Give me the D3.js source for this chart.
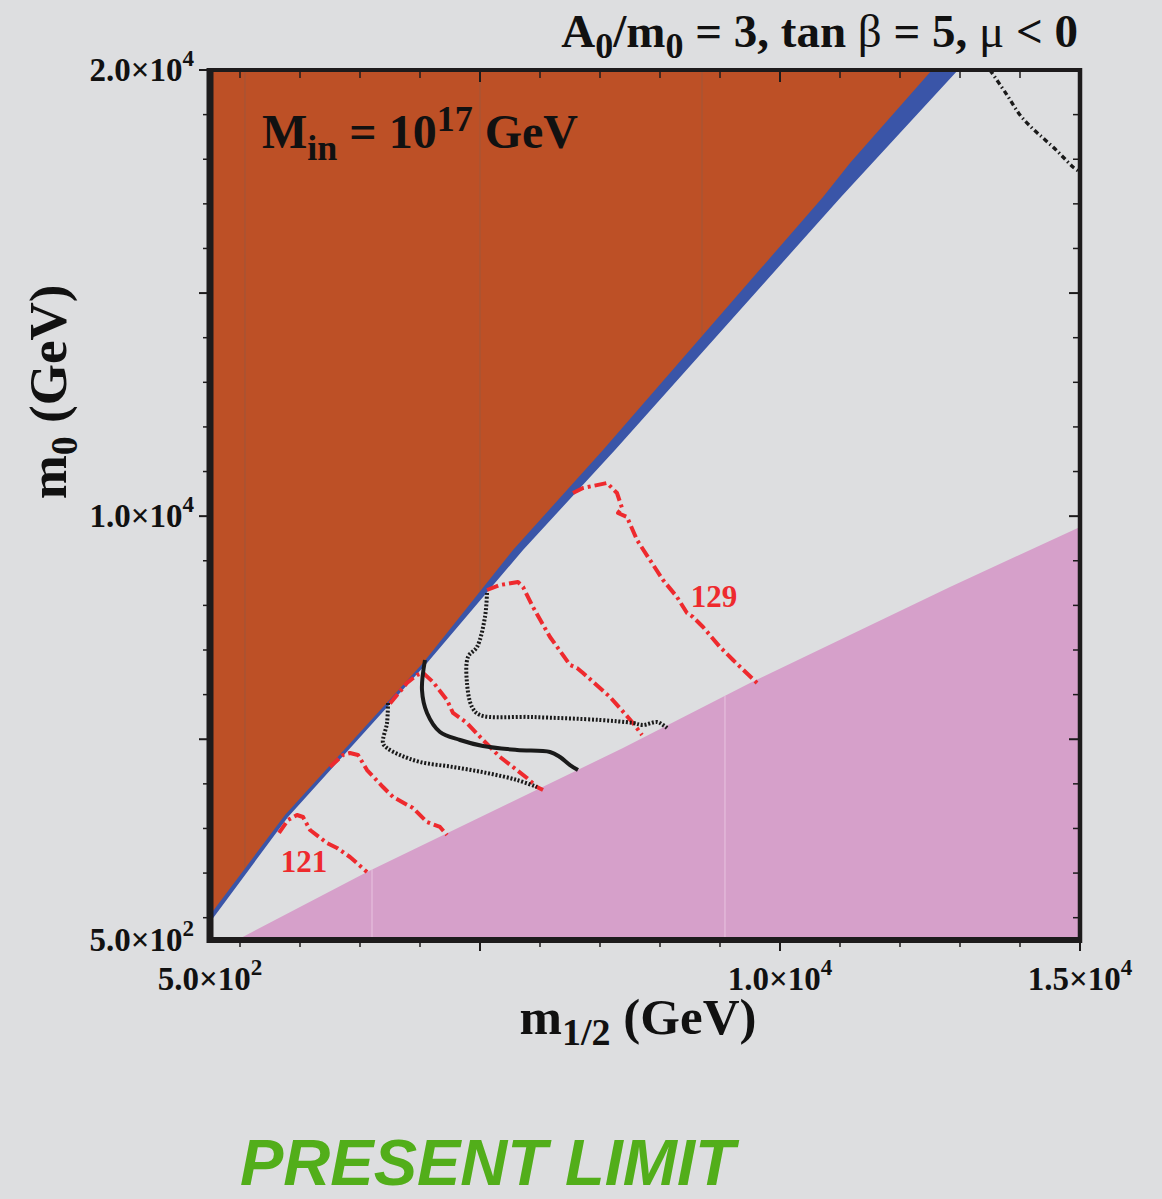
<!DOCTYPE html>
<html>
<head>
<meta charset="utf-8">
<script src="https://cdnjs.cloudflare.com/ajax/libs/d3/7.8.5/d3.min.js"></script>
<style>
body { margin: 0; background: #dddee0; }
svg { display: block; }
.bold { font-family: "Liberation Serif", "Times New Roman", serif; font-weight: bold; fill: #111; }
</style>
</head>
<body>
<svg id="chart" width="1162" height="1199"></svg>
<script>
// plot ranges (GeV)
var xDomain = [500, 15000];
var yDomain = [500, 20000];

// ticks
var xMinorTicks = [1000, 2000, 3000, 4000, 6000, 7000, 8000, 9000, 11000, 12000, 13000, 14000];
var xMajorTicks = [5000, 10000, 15000];
var yMinorTicks = [1000, 2000, 3000, 4000, 6000, 7000, 8000, 9000, 11000, 12000, 13000, 14000, 16000, 17000, 18000, 19000];
var yMajorTicks = [5000, 10000, 15000, 20000];
var xLabelValues = [500, 10000, 15000];
var xLabelMant = ["5.0", "1.0", "1.5"];
var xLabelExp = ["2", "4", "4"];
var yLabelValues = [500, 10000, 20000];
var yLabelMant = ["5.0", "1.0", "2.0"];
var yLabelExp = ["2", "4", "4"];

// excluded regions: boundaries [m1/2, m0]
var orangeEdge = [[500, 1060], [1750, 3302], [4050, 6709], [5550, 9241], [7050, 11483], [10717, 17154], [11167, 17916], [12533, 20000]];
var blueEdge = [[500, 900], [1800, 3257], [4117, 6709], [5717, 9241], [7250, 11483], [11017, 17154], [12967, 20000]];
var pinkEdge = [[950, 500], [3117, 2024], [7383, 4803], [9500, 6260], [12833, 8412], [15000, 9757]];

// Higgs mass contours (red dash-dot)
var mh121 = [[1650, 2900], [1800, 3190], [1950, 3302], [2050, 3257], [2167, 2966], [2450, 2674], [2617, 2562], [2833, 2360], [3117, 2024]];
var mh123 = [[2500, 4380], [2717, 4647], [2833, 4691], [2967, 4647], [3117, 4310], [3383, 3929], [3550, 3705], [3883, 3459], [4117, 3145], [4333, 3033], [4450, 2853]];
var mh125 = [[3500, 5800], [3783, 6260], [3950, 6440], [4050, 6485], [4217, 6283], [4450, 5879], [4550, 5588], [4783, 5364], [5050, 4983], [5333, 4602], [5550, 4378], [5783, 4131], [5950, 3929], [6050, 3862]];
var mh127 = [[5117, 8345], [5333, 8457], [5633, 8524], [5717, 8412], [5883, 7964], [6167, 7291], [6500, 6664], [6617, 6597], [6717, 6485], [7167, 5947], [7550, 5364], [7700, 5095]];
var mh129 = [[6550, 10519], [6717, 10631], [7117, 10743], [7283, 10519], [7367, 10183], [7300, 10071], [7450, 9981], [7617, 9466], [7833, 9017], [8050, 8569], [8283, 8188], [8450, 7829], [8550, 7740], [8717, 7516], [9000, 7067], [9217, 6776], [9617, 6260]];
var contourLabels = ["121", "129"];
var contourLabelPos = [[2067, 2024], [8900, 7964]];

// black lines
var solidLine = [[4083, 6776], [4033, 6104], [4117, 5588], [4333, 5162], [4667, 4983], [5050, 4848], [5617, 4759], [6167, 4714], [6333, 4602], [6500, 4422], [6633, 4310]];
var dottedLow = [[3467, 5812], [3450, 5364], [3383, 4916], [3450, 4803], [3667, 4647], [4000, 4490], [4550, 4378], [5117, 4243], [5617, 4086], [5950, 3929]];
var dottedHigh = [[5117, 8278], [5083, 7740], [4950, 7067], [4800, 6843], [4783, 6260], [4867, 5722], [5000, 5543], [5883, 5498], [7000, 5431], [7550, 5364], [7717, 5319], [7950, 5386], [8050, 5319], [8117, 5252]];
var dashDotTop = [[13500, 20000], [13783, 19440], [14000, 18992], [14200, 18700], [14383, 18476], [14550, 18274], [14717, 18050], [14883, 17826], [15000, 17714]];

// seams of the original scan
var orangeSeams = [1083, 5000, 8700];
var pinkSeams = [3200, 9083];

d3.select(window).on('load', init);

function init() {
    var svg = d3.select('#chart');
    var left = 210, right = 1080, top = 70, bottom = 940;

    var x = d3.scaleLinear().domain(xDomain).range([left, right]);
    var y = d3.scaleLinear().domain(yDomain).range([bottom, top]);

    svg.append('rect').attr('width', 1162).attr('height', 1199).attr('fill', '#dddee0');

    svg.append('clipPath').attr('id', 'plotclip')
        .append('rect').attr('x', left).attr('y', top).attr('width', right - left).attr('height', bottom - top);

    var g = svg.append('g').attr('clip-path', 'url(#plotclip)');

    var line = d3.line().x(function(d) { return x(d[0]); }).y(function(d) { return y(d[1]); });
    var curved = d3.line().curve(d3.curveCatmullRom.alpha(0.5))
        .x(function(d) { return x(d[0]); }).y(function(d) { return y(d[1]); });

    // blue band first, orange over it
    g.append('path')
        .attr('d', line([[xDomain[0], yDomain[1]]].concat(blueEdge)) + 'Z')
        .attr('fill', '#3a55a8');
    var orangePoly = [[xDomain[0], yDomain[1]]].concat(orangeEdge);
    g.append('path')
        .attr('d', line(orangePoly) + 'Z')
        .attr('fill', '#bd5026');

    svg.append('clipPath').attr('id', 'orangeclip')
        .append('path').attr('d', line(orangePoly) + 'Z');
    g.append('g').attr('clip-path', 'url(#orangeclip)')
        .selectAll('line').data(orangeSeams).enter().append('line')
        .attr('x1', function(d) { return x(d); }).attr('x2', function(d) { return x(d); })
        .attr('y1', top).attr('y2', bottom)
        .attr('stroke', '#8a5a48').attr('stroke-width', 1).attr('opacity', 0.6);

    var pinkPoly = pinkEdge.concat([[xDomain[1], yDomain[0]]]);
    g.append('path')
        .attr('d', line(pinkPoly) + 'Z')
        .attr('fill', '#d6a0ca');
    svg.append('clipPath').attr('id', 'pinkclip')
        .append('path').attr('d', line(pinkPoly) + 'Z');
    g.append('g').attr('clip-path', 'url(#pinkclip)')
        .selectAll('line').data(pinkSeams).enter().append('line')
        .attr('x1', function(d) { return x(d); }).attr('x2', function(d) { return x(d); })
        .attr('y1', top).attr('y2', bottom)
        .attr('stroke', '#e8c4e0').attr('stroke-width', 1);

    // red Higgs mass contours
    [mh121, mh123, mh125, mh127, mh129].forEach(function(c) {
        g.append('path').attr('d', line(c))
            .attr('fill', 'none').attr('stroke', '#ee2a2e').attr('stroke-width', 4)
            .attr('stroke-dasharray', '12,4,3,4').attr('stroke-linejoin', 'round');
    });

    // black lines
    g.append('path').attr('d', curved(solidLine))
        .attr('fill', 'none').attr('stroke', '#1a1a1a').attr('stroke-width', 4);
    [dottedLow, dottedHigh].forEach(function(c) {
        g.append('path').attr('d', curved(c))
            .attr('fill', 'none').attr('stroke', '#1a1a1a').attr('stroke-width', 4)
            .attr('stroke-dasharray', '2,1.8');
    });
    g.append('path').attr('d', curved(dashDotTop))
        .attr('fill', 'none').attr('stroke', '#1a1a1a').attr('stroke-width', 3.4)
        .attr('stroke-dasharray', '5,3,1.5,3');

    // contour labels
    g.selectAll('.clabel').data(contourLabels).enter().append('text')
        .attr('class', 'bold clabel')
        .attr('x', function(d, i) { return x(contourLabelPos[i][0]); })
        .attr('y', function(d, i) { return y(contourLabelPos[i][1]); })
        .attr('text-anchor', 'middle')
        .style('font-size', '31px').style('fill', '#ee2a2e')
        .text(function(d) { return d; });

    // frame
    var frame = svg.append('g').attr('stroke', '#1d1b1c').attr('fill', 'none');
    frame.append('line').attr('x1', left).attr('x2', right).attr('y1', top).attr('y2', top).attr('stroke-width', 4);
    frame.append('line').attr('x1', right).attr('x2', right).attr('y1', top - 2).attr('y2', bottom + 3).attr('stroke-width', 4.5);
    frame.append('line').attr('x1', left).attr('x2', left).attr('y1', top - 2).attr('y2', bottom + 3).attr('stroke-width', 7);
    frame.append('line').attr('x1', left - 3).attr('x2', right + 2).attr('y1', bottom).attr('y2', bottom).attr('stroke-width', 6);

    // ticks: outward on left and bottom, inward on top and right
    function ticks(vals, len, w) {
        frame.selectAll(null).data(vals).enter().append('line')
            .attr('x1', function(d) { return x(d); }).attr('x2', function(d) { return x(d); })
            .attr('y1', bottom).attr('y2', bottom + len).attr('stroke-width', w);
        frame.selectAll(null).data(vals).enter().append('line')
            .attr('x1', function(d) { return x(d); }).attr('x2', function(d) { return x(d); })
            .attr('y1', top).attr('y2', top + len + 1).attr('stroke-width', w);
    }
    function yticks(vals, len, w) {
        frame.selectAll(null).data(vals).enter().append('line')
            .attr('y1', function(d) { return y(d); }).attr('y2', function(d) { return y(d); })
            .attr('x1', left).attr('x2', left - len).attr('stroke-width', w);
        frame.selectAll(null).data(vals).enter().append('line')
            .attr('y1', function(d) { return y(d); }).attr('y2', function(d) { return y(d); })
            .attr('x1', right).attr('x2', right - len).attr('stroke-width', w);
    }
    ticks(xMinorTicks, 7, 1.5);
    ticks(xMajorTicks, 11, 2);
    yticks(yMinorTicks, 7, 1.5);
    yticks(yMajorTicks, 11, 2);

    // tick labels with powers of ten
    function sci(sel, mant, exp, size) {
        sel.append('tspan').text(mant + '\u00d710');
        sel.append('tspan').text(exp).style('font-size', (size * 0.7) + 'px').attr('dy', -size * 0.45);
    }
    xLabelValues.forEach(function(v, i) {
        var t = svg.append('text').attr('class', 'bold')
            .attr('x', x(v)).attr('y', 990).attr('text-anchor', 'middle')
            .style('font-size', '33px');
        sci(t, xLabelMant[i], xLabelExp[i], 33);
    });
    yLabelValues.forEach(function(v, i) {
        var t = svg.append('text').attr('class', 'bold')
            .attr('x', 194).attr('y', y(v) + 11).attr('text-anchor', 'end')
            .style('font-size', '33px');
        sci(t, yLabelMant[i], yLabelExp[i], 33);
    });

    // axis titles
    var xt = svg.append('text').attr('class', 'bold')
        .attr('x', 638).attr('y', 1034).attr('text-anchor', 'middle')
        .style('font-size', '51px');
    xt.append('tspan').text('m');
    xt.append('tspan').text('1/2').style('font-size', '38px').attr('dy', 11);
    xt.append('tspan').text(' (GeV)').attr('dy', -11);

    var yt = svg.append('text').attr('class', 'bold')
        .attr('transform', 'translate(66,392) rotate(-90)').attr('text-anchor', 'middle')
        .style('font-size', '53px');
    yt.append('tspan').text('m');
    yt.append('tspan').text('0').style('font-size', '38px').attr('dy', 11);
    yt.append('tspan').text(' (GeV)').attr('dy', -11);

    // title
    var tt = svg.append('text').attr('class', 'bold')
        .attr('x', 1078).attr('y', 47).attr('text-anchor', 'end')
        .style('font-size', '47px');
    tt.append('tspan').text('A');
    tt.append('tspan').text('0').style('font-size', '36px').attr('dy', 11);
    tt.append('tspan').text('/m').attr('dy', -11);
    tt.append('tspan').text('0').style('font-size', '36px').attr('dy', 11);
    tt.append('tspan').text(' = 3, tan ').attr('dy', -11);
    tt.append('tspan').text('\u03b2').style('font-weight', 'normal');
    tt.append('tspan').text(' = 5, ');
    tt.append('tspan').text('\u03bc').style('font-weight', 'normal');
    tt.append('tspan').text(' < 0');

    // input scale label
    var mt = svg.append('text').attr('class', 'bold')
        .attr('x', 262).attr('y', 148)
        .style('font-size', '48px');
    mt.append('tspan').text('M');
    mt.append('tspan').text('in').style('font-size', '36px').attr('dy', 12);
    mt.append('tspan').text(' = 10').attr('dy', -12);
    mt.append('tspan').text('17').style('font-size', '36px').attr('dy', -17);
    mt.append('tspan').text(' GeV').attr('dy', 17);

    svg.append('text')
        .attr('x', 240).attr('y', 1185)
        .style('font-family', '"Liberation Sans", Arial, sans-serif')
        .style('font-weight', 'bold').style('font-style', 'italic')
        .style('font-size', '65px').style('fill', '#52ae1a')
        .text('PRESENT LIMIT');
}
</script>
</body>
</html>
